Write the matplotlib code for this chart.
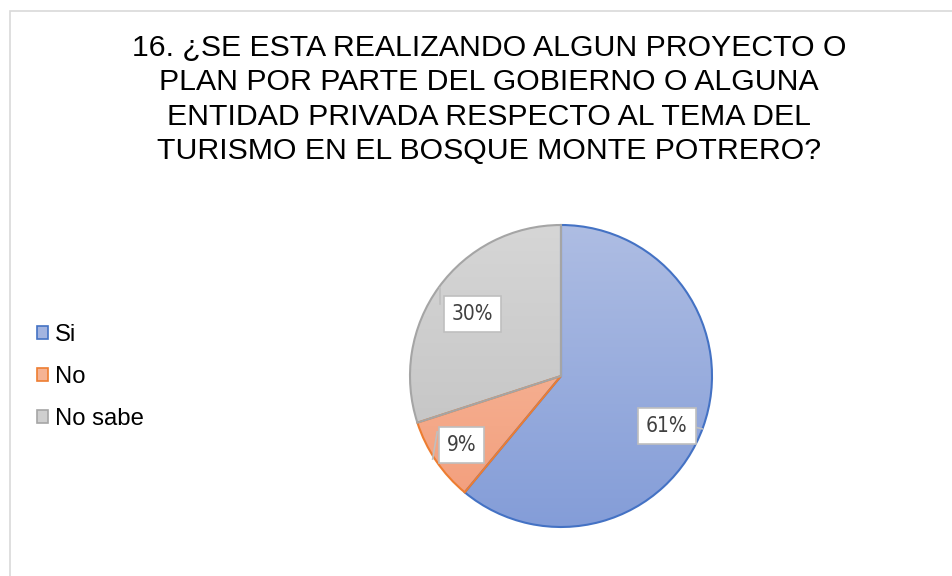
import numpy as np
import matplotlib
matplotlib.use("Agg")
import matplotlib.pyplot as plt
from matplotlib import font_manager as fm
from matplotlib.patches import Patch, Rectangle
from matplotlib.colors import LinearSegmentedColormap

categories = ["Si", "No", "No sabe"]
values = [61, 9, 30]
pct_labels = ["61%", "9%", "30%"]
title_lines = [
    "16. ¿SE ESTA REALIZANDO ALGUN PROYECTO O",
    "PLAN POR PARTE DEL GOBIERNO O ALGUNA",
    "ENTIDAD PRIVADA RESPECTO AL TEMA DEL",
    "TURISMO EN EL BOSQUE MONTE POTRERO?",
]

edge_colors = ["#4472C4", "#ED7D31", "#A5A5A5"]
grad_top = ["#aebde3", "#f6c0a6", "#d6d6d6"]
grad_bot = ["#849dd8", "#f39c79", "#bfbfbf"]
legend_fill = ["#a3b4e0", "#f5b394", "#cfcfcf"]

# find a condensed font for the data labels if one is installed
order = {"ultra-condensed": 0, "extra-condensed": 1, "condensed": 2, "semi-condensed": 3}
cands = [f for f in fm.fontManager.ttflist
         if str(f.stretch) in order and f.weight in (400, "normal", "regular")
         and f.style == "normal"]
cands.sort(key=lambda f: order[str(f.stretch)])
if cands:
    cond_font = fm.FontProperties(fname=cands[0].fname, size=15)
else:
    cond_font = fm.FontProperties(family="DejaVu Sans", size=14)

W, H = 952, 576
fig = plt.figure(figsize=(W / 100, H / 100), dpi=100)
fig.patch.set_facecolor("white")

# chart border (extends past right and bottom edges)
fig.add_artist(Rectangle((9.5 / W, -0.2), 1.2, 1.2 - 11 / H, transform=fig.transFigure,
                         fill=False, edgecolor="#d9d9d9", linewidth=1.2))

# title
font = ["Liberation Sans", "DejaVu Sans"]
ys = [48, 82.5, 117, 151]
for line, y in zip(title_lines, ys):
    fig.text(489 / W, 1 - y / H, line, ha="center", va="center", fontsize=21.8,
             family=font, color="#000000")

# pie axes: center (561,376), radius 151 px
cx, cy, r = 561, 376, 151
m = 1.02
R = r * m
ax = fig.add_axes([(cx - R) / W, (H - cy - R) / H, 2 * R / W, 2 * R / H])
ax.set_aspect("equal")
ax.axis("off")

wedges, _ = ax.pie(values, startangle=90, counterclock=False, radius=1,
                   colors=["none"] * 3,
                   wedgeprops=dict(linewidth=1.5))
for w, ec, top, bot in zip(wedges, edge_colors, grad_top, grad_bot):
    w.set_edgecolor(ec)
    w.set_zorder(3)
    cmap = LinearSegmentedColormap.from_list("g", [bot, top])
    grad = np.linspace(0, 1, 256).reshape(-1, 1)
    im = ax.imshow(grad, cmap=cmap, extent=[-1, 1, -1, 1], origin="lower",
                   aspect="auto", zorder=1)
    im.set_clip_path(w)
ax.set_xlim(-m, m)
ax.set_ylim(-m, m)

# data labels (positions along each wedge's mid-angle)
label_r = [0.775, 0.80, 0.715]
label_dang = [-5.5, 0.5, 1]
leader = [((0.51, -0.25), (0.935, -0.35)),
          ((-0.82, -0.37), (-0.85, -0.55)),
          ((-0.80, 0.58), (-0.80, 0.48))]
cum = 0
total = sum(values)
for i, (v, lab) in enumerate(zip(values, pct_labels)):
    mid = 90 - (cum + v / 2) / total * 360
    cum += v
    a = np.deg2rad(mid + label_dang[i])
    x, y = label_r[i] * np.cos(a), label_r[i] * np.sin(a)
    (x0, y0), (x1, y1) = leader[i]
    ax.plot([x0, x1], [y0, y1], color="#bfbfbf", lw=1.2, zorder=4)
    ax.text(x, y, lab, ha="center", va="center", fontproperties=cond_font,
            color="#404040", zorder=5,
            bbox=dict(boxstyle="square,pad=0.38", facecolor="white",
                      edgecolor="#bfbfbf", linewidth=1.2))

# legend
handles = [Patch(facecolor=f, edgecolor=e, linewidth=1.2)
           for f, e in zip(legend_fill, edge_colors)]
leg = fig.legend(handles, categories, loc="center left",
                 bbox_to_anchor=(37 / W, 1 - 377 / H), frameon=False,
                 prop=dict(family=font, size=17.2), handlelength=0.45,
                 handleheight=0.45, handletextpad=0.3, labelspacing=0.85,
                 borderpad=0, borderaxespad=0)

fig.savefig("out.png", dpi=100, facecolor="white")
